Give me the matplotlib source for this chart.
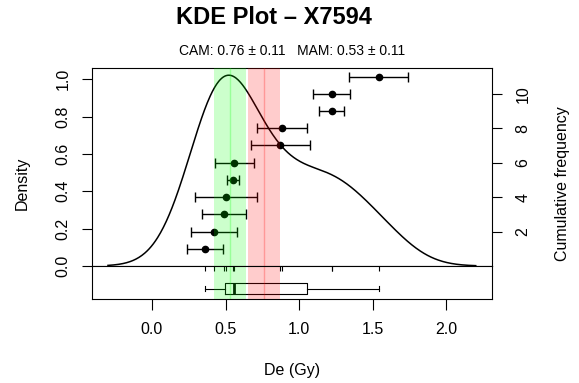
import numpy as np
import matplotlib
matplotlib.use('Agg')
import matplotlib.pyplot as plt

# ---- data ----
sample = "X7594"
de = np.array([0.36, 0.42, 0.49, 0.50, 0.55, 0.56, 0.87, 0.88, 1.22, 1.22, 1.54])
de_err = np.array([0.12, 0.155, 0.15, 0.21, 0.04, 0.13, 0.20, 0.17, 0.085, 0.127, 0.20])
cam, cam_se = 0.76, 0.11
mam, mam_se = 0.53, 0.11
x_ticks = [0.0, 0.5, 1.0, 1.5, 2.0]
density_ticks = [0.0, 0.2, 0.4, 0.6, 0.8, 1.0]
cum_ticks = [2, 4, 6, 8, 10]

plt.rcParams['font.family'] = ['Liberation Sans', 'DejaVu Sans']

W, H = 579, 383
fig = plt.figure(figsize=(W / 100, H / 100), dpi=100)


def rect(l, t, r, b):
    return [l / W, 1 - b / H, (r - l) / W, (b - t) / H]


ax = fig.add_axes(rect(92, 68, 492, 266))
axb = fig.add_axes(rect(92, 266, 492, 299), sharex=ax)

# ---- KDE (gaussian, nrd0 bandwidth) ----
n = len(de)
sd = np.std(de, ddof=1)
q75, q25 = np.percentile(de, [75, 25])
bw = 0.9 * min(sd, (q75 - q25) / 1.34) * n ** -0.2
grid = np.linspace(de.min() - 3 * bw, de.max() + 3 * bw, 512)
dens = np.exp(-0.5 * ((grid[:, None] - de[None, :]) / bw) ** 2).sum(1) / (n * bw * np.sqrt(2 * np.pi))

lw = 0.8
ax.plot(grid, dens, color='k', lw=1.1)
ax.set_xlim(-0.407, 2.309)
ax.set_ylim(0, 1.06)
ax.set_yticks(density_ticks)
ax.set_yticklabels([f"{v:.1f}" for v in density_ticks], rotation=90, va='center')
ax.tick_params(axis='y', length=7.3, width=lw, pad=8, labelsize=11.5)
ax.tick_params(axis='x', bottom=False, labelbottom=False)
for s in ax.spines.values():
    s.set_linewidth(lw)

# ---- cumulative frequency (points with error bars) ----
ax2 = ax.twinx()
ax2.set_ylim(0, 11.5)
ypos = np.arange(1, n + 1)
ax2.errorbar(de, ypos, xerr=de_err, fmt='o', color='k', ms=4.5,
             capsize=3.5, elinewidth=1.0, capthick=1.0, zorder=3)
ax2.set_yticks(cum_ticks)
ax2.set_yticklabels([str(v) for v in cum_ticks], rotation=90, va='center')
ax2.tick_params(axis='y', length=7.3, width=lw, pad=9.5, labelsize=11.5)
for s in ax2.spines.values():
    s.set_visible(False)

# ---- boxplot panel ----
axb.set_ylim(0, 1)
axb.boxplot(de, orientation='horizontal', positions=[0.318], widths=0.315,
            showfliers=False, manage_ticks=False, capwidths=0.15,
            boxprops=dict(color='k', lw=lw), whiskerprops=dict(color='k', lw=lw),
            capprops=dict(color='k', lw=lw), medianprops=dict(color='k', lw=2))
axb.vlines(de, 0.85, 1.0, color='k', lw=lw)
axb.set_xticks(x_ticks)
axb.set_xticklabels([f"{v:.1f}" for v in x_ticks])
axb.tick_params(axis='x', length=7.8, width=lw, pad=9, labelsize=11.5)
axb.tick_params(axis='y', left=False, labelleft=False)
for s in axb.spines.values():
    s.set_linewidth(lw)
    s.set_zorder(10)

# ---- CAM / MAM bands (drawn on top, transparent) ----
for a in (ax2, axb):
    a.axvspan(mam - mam_se, mam + mam_se, color=(0, 1, 0), alpha=0.2, lw=0, zorder=5)
    a.axvline(mam, color=(0, 1, 0), alpha=0.25, lw=1.0, zorder=6)
    a.axvspan(cam - cam_se, cam + cam_se, color=(1, 0, 0), alpha=0.2, lw=0, zorder=5)
    a.axvline(cam, color=(1, 0, 0), alpha=0.25, lw=1.0, zorder=6)

# ---- texts ----
fig.text(274 / W, 1 - 18 / H, f"KDE Plot \u2013 {sample}", ha='center', va='center',
         fontsize=17, fontweight='bold')
fig.text(292 / W, 1 - 51 / H,
         f"CAM: {cam:.2f} \u00b1 {cam_se:.2f}   MAM: {mam:.2f} \u00b1 {mam_se:.2f}",
         ha='center', va='center', fontsize=10)
fig.text(292 / W, 1 - 370 / H, "De (Gy)", ha='center', va='center', fontsize=11.5)
fig.text(22 / W, 1 - 183 / H, "Density", ha='center', va='center', rotation=90, fontsize=11.5)
fig.text(563 / W, 1 - 184 / H, "Cumulative frequency", ha='center', va='center',
         rotation=90, fontsize=11.5)

fig.savefig("out.png", dpi=100)
